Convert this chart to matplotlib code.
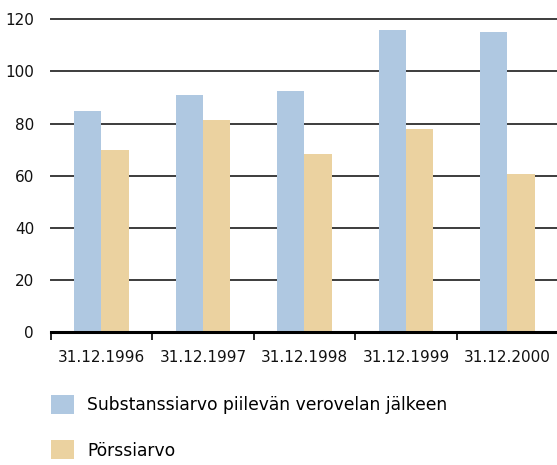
import numpy as np
import matplotlib
matplotlib.use('Agg')
import matplotlib.pyplot as plt

### Data
dates = ['31.12.1996', '31.12.1997', '31.12.1998', '31.12.1999', '31.12.2000']
substanssiarvo = [85.0, 91.0, 92.5, 115.9, 115.1]
porssiarvo = [69.9, 81.4, 68.4, 78.0, 60.7]
labels = ['Substanssiarvo piilevän verovelan jälkeen', 'Pörssiarvo']
yticks = [0, 20, 40, 60, 80, 100, 120]

plt.rcParams['font.family'] = ['DejaVu Sans']

fig = plt.figure(figsize=(5.57, 4.65), dpi=100)
ax = fig.add_axes([50.7/557, (465-332.3)/465, 507.5/557, (332.3-19.3)/465])

x = np.arange(len(dates))
w = 0.27
b1 = ax.bar(x - w/2, substanssiarvo, w, color='#afc8e1', zorder=3, label=labels[0])
b2 = ax.bar(x + w/2, porssiarvo, w, color='#ebd2a0', zorder=3, label=labels[1])

ax.set_ylim(0, 120)
ax.set_xlim(-0.5, len(dates) - 0.5)
ax.set_yticks(yticks)
for y in yticks[1:]:
    ax.axhline(y, color='#3c3c3c', lw=1.4, zorder=1, clip_on=False)

# category dividers as tick marks, labels in the middle
ax.set_xticks(np.arange(len(dates) + 1) - 0.5)
ax.set_xticklabels([])
ax.set_xticks(x, minor=True)
ax.set_xticklabels(dates, minor=True)
ax.tick_params(axis='x', which='major', direction='out', length=6, width=1.2, color='black')
ax.tick_params(axis='x', which='minor', length=0, pad=13, labelsize=11, colors='#111111')
ax.tick_params(axis='y', length=0, pad=12, labelsize=11, colors='#111111')

for s in ['top', 'right', 'left']:
    ax.spines[s].set_visible(False)
ax.spines['bottom'].set_linewidth(2.2)
ax.spines['bottom'].set_color('black')
ax.spines['bottom'].set_zorder(4)

fs = 12.3
px = fs * 100 / 72
fig.legend(handles=[b1, b2], labels=labels, loc='upper left',
           bbox_to_anchor=(50.7/557, (465-395)/465), frameon=False,
           borderpad=0, borderaxespad=0, fontsize=fs, handlelength=23/px,
           handleheight=22.7/px, handletextpad=13.3/px, labelspacing=(49-22.7)/px)

fig.savefig('out.png', dpi=100)
